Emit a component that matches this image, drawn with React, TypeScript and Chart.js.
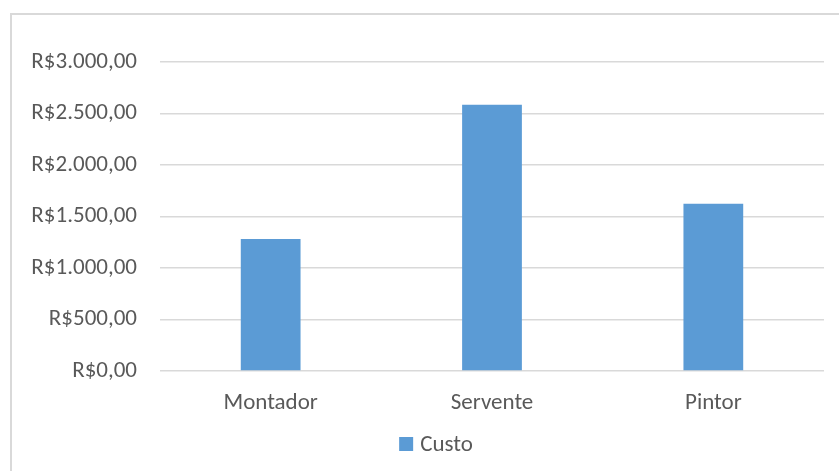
import React, { useEffect, useRef } from "react";
import { Chart, registerables } from "chart.js";

Chart.register(...registerables);

const categories = ["Montador", "Servente", "Pintor"];
const custo = [1281, 2584, 1624];
const yTicks = [0, 500, 1000, 1500, 2000, 2500, 3000];

const FONT = "Carlito, 'Open Sans', sans-serif";
const SIZE = 23;
const TEXT = "#595959";
const GRID = "#D9D9D9";
const BAR = "#5B9BD5";

const brl = (v: number) =>
  "R$" +
  v.toLocaleString("pt-BR", { minimumFractionDigits: 2, maximumFractionDigits: 2 });

// Legend drawn under the axis: a colour square followed by the series name.
const bottomLegend = {
  id: "bottomLegend",
  afterDraw(chart: any) {
    const ctx = chart.ctx as CanvasRenderingContext2D;
    const ds = chart.data.datasets[0];
    const box = 14;
    const gap = 7;
    ctx.save();
    ctx.font = `${SIZE}px ${FONT}`;
    const tw = ctx.measureText(ds.label).width;
    const total = box + gap + tw;
    const cx = 436;
    const baseline = 451;
    const x0 = cx - total / 2;
    ctx.fillStyle = ds.backgroundColor;
    ctx.fillRect(x0, baseline - box, box, box);
    ctx.fillStyle = TEXT;
    ctx.textBaseline = "alphabetic";
    ctx.textAlign = "left";
    ctx.fillText(ds.label, x0 + box + gap, baseline);
    ctx.restore();
  },
};

export default function App() {
  const ref = useRef<HTMLCanvasElement | null>(null);

  useEffect(() => {
    document.body.style.margin = "0";
    const canvas = ref.current;
    if (!canvas) return;
    const chart = new Chart(canvas, {
      type: "bar",
      data: {
        labels: categories,
        datasets: [
          {
            label: "Custo",
            data: custo,
            backgroundColor: BAR,
            borderWidth: 0,
            categoryPercentage: 1,
            barPercentage: 0.27,
          },
        ],
      },
      options: {
        animation: false,
        responsive: false,
        maintainAspectRatio: false,
        layout: { padding: { left: 0, right: 15, top: 62, bottom: 46 } },
        scales: {
          x: {
            afterFit: (scale: any) => {
              scale.height = 54;
            },
            grid: { display: false, drawTicks: false },
            border: { display: false },
            ticks: { color: TEXT, font: { family: FONT, size: SIZE }, padding: 18 },
          },
          y: {
            min: 0,
            max: 3000,
            afterBuildTicks: (scale: any) => {
              scale.ticks = yTicks.map((v) => ({ value: v }));
            },
            afterFit: (scale: any) => {
              scale.width = 160;
            },
            grid: { color: GRID, lineWidth: 1.5, drawTicks: false },
            border: { display: false },
            ticks: {
              color: TEXT,
              font: { family: FONT, size: SIZE },
              padding: 23,
              callback: (v: any) => brl(Number(v)),
            },
          },
        },
        plugins: {
          legend: { display: false },
          tooltip: { enabled: false },
        },
      },
      plugins: [bottomLegend],
    });
    return () => chart.destroy();
  }, []);

  return (
    <div style={{ position: "fixed", left: 0, top: 0, width: 839, height: 471, background: "#fff" }}>
      <div
        style={{
          position: "absolute",
          left: 10,
          top: 13,
          width: 829,
          height: 458,
          borderLeft: `2px solid ${GRID}`,
          borderTop: `2px solid ${GRID}`,
          boxSizing: "border-box",
        }}
      />
      <canvas ref={ref} width={839} height={471} style={{ position: "absolute", left: 0, top: 0 }} />
    </div>
  );
}
